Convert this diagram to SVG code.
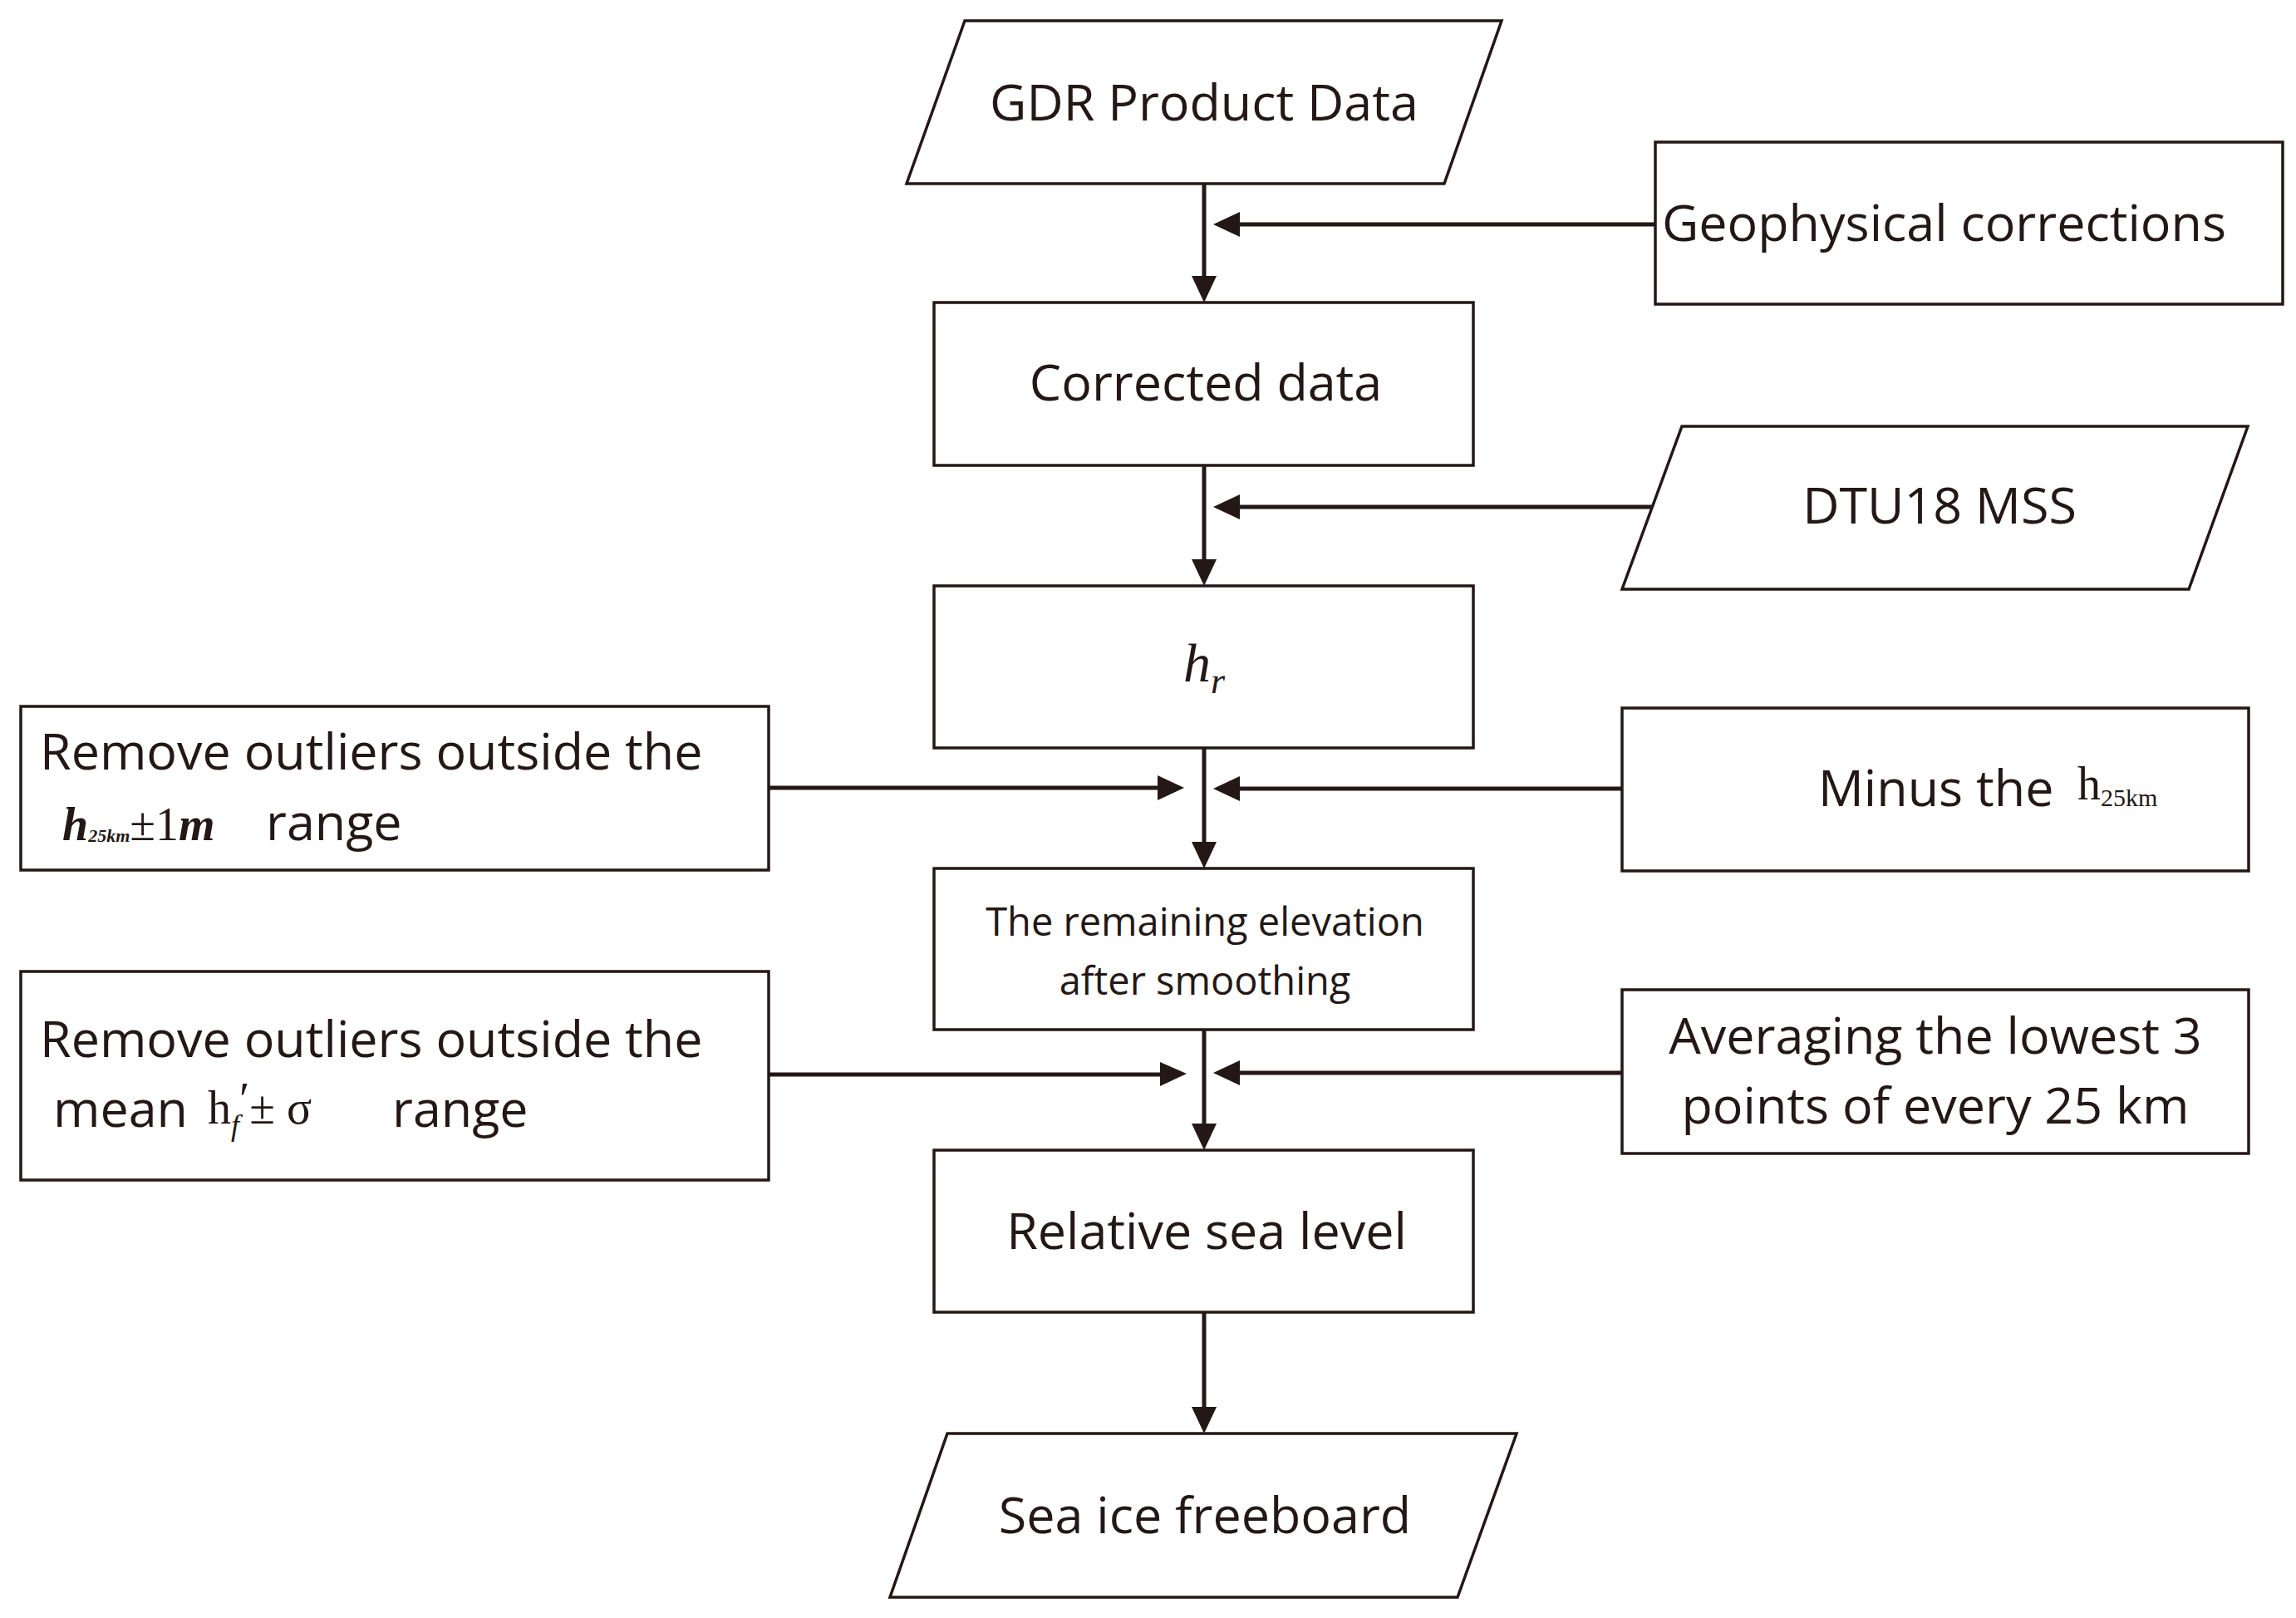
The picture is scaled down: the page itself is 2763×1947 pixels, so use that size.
<svg xmlns="http://www.w3.org/2000/svg" width="2763" height="1947" viewBox="0 0 2763 1947">
<style>
.s{fill:#fff;stroke:#231815;stroke-width:3.5}
.t{font-family:"Open Sans","Liberation Sans",sans-serif;font-size:61px;fill:#231815}
.t2{font-family:"Open Sans","Liberation Sans",sans-serif;font-size:47px;fill:#231815}
.m{font-family:"Liberation Serif",serif;fill:#231815}
.c{stroke:#231815;stroke-width:5;fill:none}
.h{fill:#231815}
</style>
<rect width="2763" height="1947" fill="#fff"/>
<g id="connectors">
<path class="c" d="M1449,221 V340"/><path class="h" d="M1434,332 L1449,364 L1464,332z"/>
<path class="c" d="M1449,560 V680"/><path class="h" d="M1434,673 L1449,705 L1464,673z"/>
<path class="c" d="M1449,900 V1020"/><path class="h" d="M1434,1013 L1449,1045 L1464,1013z"/>
<path class="c" d="M1449,1239 V1360"/><path class="h" d="M1434,1352 L1449,1384 L1464,1352z"/>
<path class="c" d="M1449,1579 V1700"/><path class="h" d="M1434,1693 L1449,1725 L1464,1693z"/>
<path class="c" d="M1992,270 H1490"/><path class="h" d="M1492,255 L1460,270 L1492,285z"/>
<path class="c" d="M1992,610 H1490"/><path class="h" d="M1492,595 L1460,610 L1492,625z"/>
<path class="c" d="M1952,949 H1490"/><path class="h" d="M1492,934 L1460,949 L1492,964z"/>
<path class="c" d="M1952,1291 H1490"/><path class="h" d="M1492,1276 L1460,1291 L1492,1306z"/>
<path class="c" d="M925,948 H1395"/><path class="h" d="M1393,933 L1425,948 L1393,963z"/>
<path class="c" d="M925,1293 H1398"/><path class="h" d="M1396,1278 L1428,1292 L1396,1307z"/>
</g>
<g id="gdr"><path class="s" d="M1161,25 H1807 L1738,221 H1091z"/><text class="t" x="1449" y="145" text-anchor="middle">GDR Product Data</text></g>
<g id="geo"><rect class="s" x="1992" y="171" width="755" height="195"/><text class="t" x="2000" y="290">Geophysical corrections</text></g>
<g id="corrected"><rect class="s" x="1124" y="364" width="649" height="196"/><text class="t" x="1451" y="482" text-anchor="middle">Corrected data</text></g>
<g id="dtu"><path class="s" d="M2024,513 H2705 L2634,709 H1952z"/><text class="t" x="2334" y="630" text-anchor="middle">DTU18 MSS</text></g>
<g id="hr"><rect class="s" x="1124" y="705" width="649" height="195"/><text class="m" x="1424" y="820" font-size="66" font-style="italic">h<tspan font-size="44" dy="14">r</tspan></text></g>
<g id="rem1"><rect class="s" x="25" y="850" width="900" height="197"/><text class="t" x="48" y="926">Remove outliers outside the</text><text class="m" x="75" y="1011" font-size="56" font-weight="bold" font-style="italic">h<tspan font-size="22" dy="2">25km</tspan><tspan dy="-2" font-weight="normal" font-style="normal">±1</tspan>m</text><text class="t" x="320" y="1011">range</text></g>
<g id="minus"><rect class="s" x="1952" y="852" width="754" height="196"/><text class="t" x="2188" y="970">Minus the</text><text class="m" x="2500" y="962" font-size="56">h<tspan font-size="30" dy="8">25km</tspan></text></g>
<g id="remaining"><rect class="s" x="1124" y="1045" width="649" height="194"/><text class="t2" x="1450" y="1126" text-anchor="middle">The remaining elevation</text><text class="t2" x="1450" y="1197" text-anchor="middle">after smoothing</text></g>
<g id="rem2"><rect class="s" x="25" y="1169" width="900" height="251"/><text class="t" x="48" y="1272">Remove outliers outside the</text><text class="t" x="64" y="1356">mean</text><text class="m" x="250" y="1352" font-size="56">h<tspan font-size="36" font-style="italic" dy="14">f</tspan><tspan dy="-24">′</tspan><tspan dy="10">± σ</tspan></text><text class="t" x="472" y="1356">range</text></g>
<g id="avg"><rect class="s" x="1952" y="1191" width="754" height="197"/><text class="t" x="2329" y="1268" text-anchor="middle">Averaging the lowest 3</text><text class="t" x="2329" y="1352" text-anchor="middle">points of every 25 km</text></g>
<g id="relative"><rect class="s" x="1124" y="1384" width="649" height="195"/><text class="t" x="1452" y="1503" text-anchor="middle">Relative sea level</text></g>
<g id="freeboard"><path class="s" d="M1140,1725 H1825 L1754,1922 H1071z"/><text class="t" x="1450" y="1845" text-anchor="middle">Sea ice freeboard</text></g>
</svg>
